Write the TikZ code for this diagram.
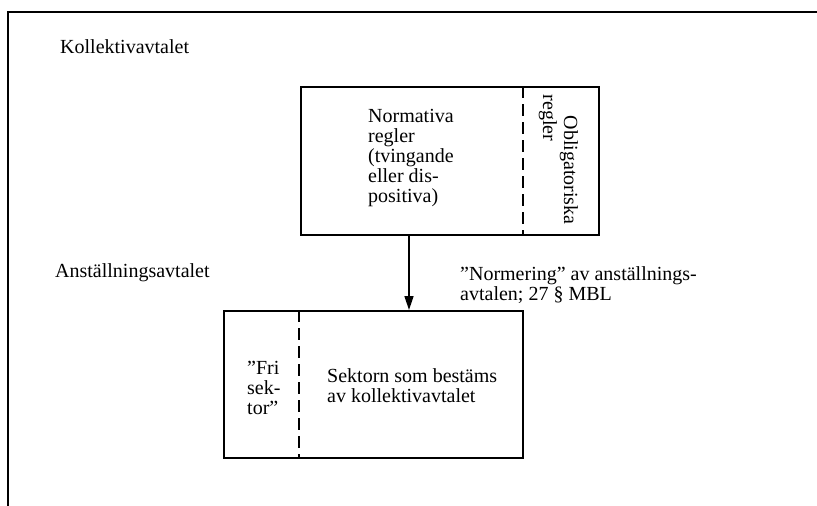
\documentclass[tikz,border=0pt]{standalone}
\usepackage{fontspec}
\setmainfont{Liberation Serif}
\usetikzlibrary{arrows.meta}
\begin{document}
\begin{tikzpicture}[x=1pt,y=-1pt,
  every node/.style={font=\fontsize{20}{20}\selectfont, inner sep=0pt},
  frameline/.style={line width=1.4pt},
  boxline/.style={draw, line width=1.6pt, minimum width=#1, anchor=north west},
  divider/.style={line width=1.4pt, dash pattern=on 12pt off 6pt},
  txt/.style={align=left, anchor=west}]
\useasboundingbox (0,0) rectangle (817,506);
% outer frame (open at right and bottom)
\draw[frameline] (8,506) -- (8,12) -- (817,12);
% labels
\node[txt] (kol) at (60,47) {Kollektivavtalet};
\node[txt] (ans) at (55,273) {Anställningsavtalet};
% upper box
\node[boxline=298pt, minimum height=148pt] (kb) at (300,86) {};
\draw[divider] (kb.north -| 523,0) -- (kb.south -| 523,0);
\node[txt] (norm) at (368,158) {Normativa\\regler\\(tvingande\\eller dis-\\positiva)};
\node[rotate=-90] (obl) at (569,170) {Obligatoriska};
\node[rotate=-90] (reg) at (548,118) {regler};
% lower box
\node[boxline=299pt, minimum height=147pt] (ab) at (223,310) {};
\draw[divider] (ab.north -| 299,0) -- (ab.south -| 299,0);
\node[txt] (fri) at (247,388) {''Fri\\sek-\\tor''};
\node[txt] (sek) at (327,386) {Sektorn som bestäms\\av kollektivavtalet};
% arrow
\draw[line width=1.6pt, -{Triangle[width=9pt,length=14pt]}] (kb.south -| 409,0) -- (ab.north -| 409,0);
\node[txt] (lab) at (460,285) {''Normering'' av anställnings-\\avtalen; 27 § MBL};
\end{tikzpicture}
\end{document}
